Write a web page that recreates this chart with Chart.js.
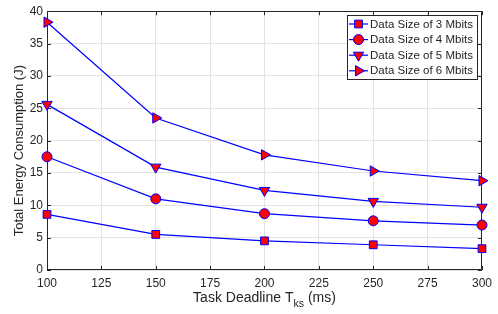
<!DOCTYPE html>
<html>
<head>
<meta charset="utf-8">
<script src="https://cdn.jsdelivr.net/npm/chart.js@4"></script>
<style>
html,body{margin:0;padding:0;background:#fff;}
#wrap{width:498px;height:314px;position:relative;}
</style>
</head>
<body>
<div id="wrap"><canvas id="c" width="498" height="314"></canvas></div>
<script>
const deadlines = [100, 150, 200, 250, 300];
const size3 = [8.6, 5.5, 4.5, 3.9, 3.3];
const size4 = [17.5, 11.0, 8.7, 7.6, 6.95];
const size5 = [25.6, 15.9, 12.3, 10.6, 9.7];
const size6 = [38.3, 23.5, 17.8, 15.3, 13.8];
const seriesLabels = ['Data Size of 3 Mbits','Data Size of 4 Mbits','Data Size of 5 Mbits','Data Size of 6 Mbits'];
const xTicks = [100,125,150,175,200,225,250,275,300];
const yTicks = [0,5,10,15,20,25,30,35,40];
const xTitleMain = 'Task Deadline T', xTitleSub = 'ks', xTitleEnd = ' (ms)';
const yTitle = 'Total Energy Consumption (J)';

const FONT = '"Liberation Sans", Arial, sans-serif';
const AXIS = '#262626';

function pts(arr){ return deadlines.map((x,i)=>({x:x,y:arr[i]})); }
const styles = [
  {pointStyle:'rect', pointRadius:5.5, pointRotation:0},
  {pointStyle:'circle', pointRadius:5, pointRotation:0},
  {pointStyle:'triangle', pointRadius:6, pointRotation:180},
  {pointStyle:'triangle', pointRadius:6, pointRotation:90}
];
const datasets = [size3,size4,size5,size6].map((arr,i)=>({
  label: seriesLabels[i],
  data: pts(arr),
  borderColor:'#0000ff',
  borderWidth:1.2,
  backgroundColor:'#ff0000',
  pointBackgroundColor:'#ff0000',
  pointBorderColor:'#0000ff',
  pointBorderWidth:1,
  pointStyle: styles[i].pointStyle,
  pointRadius: styles[i].pointRadius,
  pointRotation: styles[i].pointRotation,
  tension:0,
  clip:false
}));

const framePlugin = {
  id:'frame',
  beforeDatasetsDraw(chart){
    const {ctx, chartArea:a, scales:{x,y}} = chart;
    ctx.save();
    ctx.strokeStyle = AXIS;
    ctx.lineWidth = 1;
    ctx.beginPath();
    ctx.rect(Math.round(a.left)+0.5, Math.round(a.top)+0.5, Math.round(a.right-a.left)-1, Math.round(a.bottom-a.top)-1);
    ctx.stroke();
    const tl = 4;
    ctx.beginPath();
    xTicks.forEach(v=>{
      const px = Math.round(x.getPixelForValue(v))+0.5;
      ctx.moveTo(px, a.bottom); ctx.lineTo(px, a.bottom-tl);
      ctx.moveTo(px, a.top); ctx.lineTo(px, a.top+tl);
    });
    yTicks.forEach(v=>{
      const py = Math.round(y.getPixelForValue(v))+0.5;
      ctx.moveTo(a.left, py); ctx.lineTo(a.left+tl, py);
      ctx.moveTo(a.right, py); ctx.lineTo(a.right-tl, py);
    });
    ctx.stroke();
    ctx.restore();
  },
  afterDraw(chart){
    const {ctx, chartArea:a} = chart;
    ctx.save();
    ctx.fillStyle = AXIS;
    // y-axis title
    ctx.save();
    ctx.font = '13px ' + FONT;
    ctx.textAlign = 'center';
    ctx.textBaseline = 'middle';
    ctx.translate(19, (a.top+a.bottom)/2 + 10);
    ctx.rotate(-Math.PI/2);
    ctx.fillText(yTitle, 0, 0);
    ctx.restore();
    // x-axis title with subscript
    ctx.textBaseline = 'alphabetic';
    const f1 = '14px ' + FONT, f2 = '10.5px ' + FONT;
    ctx.font = f1;
    const w1 = ctx.measureText(xTitleMain).width, w3 = ctx.measureText(xTitleEnd).width;
    ctx.font = f2;
    const w2 = ctx.measureText(xTitleSub).width;
    const total = w1+w2+w3;
    const cx = (a.left+a.right)/2;
    let sx = cx - total/2;
    const base = 302;
    ctx.font = f1; ctx.textAlign='left';
    ctx.fillText(xTitleMain, sx, base);
    ctx.font = f2;
    ctx.fillText(xTitleSub, sx+w1, base+5);
    ctx.font = f1;
    ctx.fillText(xTitleEnd, sx+w1+w2, base);

    // legend
    const lx = 347, ly = 15, lw = 130, lh = 64;
    ctx.fillStyle = '#fff';
    ctx.fillRect(lx, ly, lw, lh);
    ctx.strokeStyle = AXIS;
    ctx.lineWidth = 1;
    ctx.strokeRect(lx+0.5, ly+0.5, lw, lh);
    ctx.font = '11.5px ' + FONT;
    ctx.textBaseline = 'middle';
    chart.data.datasets.forEach((ds,i)=>{
      const yy = ly + 9 + i*15.6;
      ctx.strokeStyle = ds.borderColor;
      ctx.lineWidth = 1.2;
      ctx.beginPath();
      ctx.moveTo(lx+2, yy); ctx.lineTo(lx+21, yy);
      ctx.stroke();
      ctx.fillStyle = ds.pointBackgroundColor;
      ctx.strokeStyle = ds.pointBorderColor;
      ctx.lineWidth = 1;
      Chart.helpers.drawPoint(ctx, {pointStyle: ds.pointStyle, radius: ds.pointRadius, rotation: ds.pointRotation, borderWidth:1}, lx+11.5, yy);
      ctx.fillStyle = AXIS;
      ctx.textAlign = 'left';
      ctx.fillText(ds.label, lx+23, yy+0.5);
    });
    ctx.restore();
  }
};

new Chart(document.getElementById('c'), {
  type:'line',
  data:{datasets},
  options:{
    responsive:false,
    animation:false,
    devicePixelRatio:1,
    layout:{padding:{left:0, right:15, top:9, bottom:0}},
    plugins:{legend:{display:false}, tooltip:{enabled:false}},
    scales:{
      x:{
        type:'linear', min:100, max:300,
        afterFit(s){ s.height = 44; },
        afterBuildTicks(s){ s.ticks = xTicks.map(v=>({value:v})); },
        grid:{color:'#e3e3e3', drawTicks:false, lineWidth:1},
        border:{display:false},
        ticks:{color:AXIS, font:{family:FONT, size:12}, padding:6, maxRotation:0, autoSkip:false},
        title:{display:false}
      },
      y:{
        type:'linear', min:0, max:40,
        afterFit(s){ s.width = 47; },
        afterBuildTicks(s){ s.ticks = yTicks.map(v=>({value:v})); },
        grid:{color:'#e3e3e3', drawTicks:false, lineWidth:1},
        border:{display:false},
        ticks:{color:AXIS, font:{family:FONT, size:12}, padding:4, autoSkip:false},
        title:{display:false}
      }
    }
  },
  plugins:[framePlugin]
});
</script>
</body>
</html>
